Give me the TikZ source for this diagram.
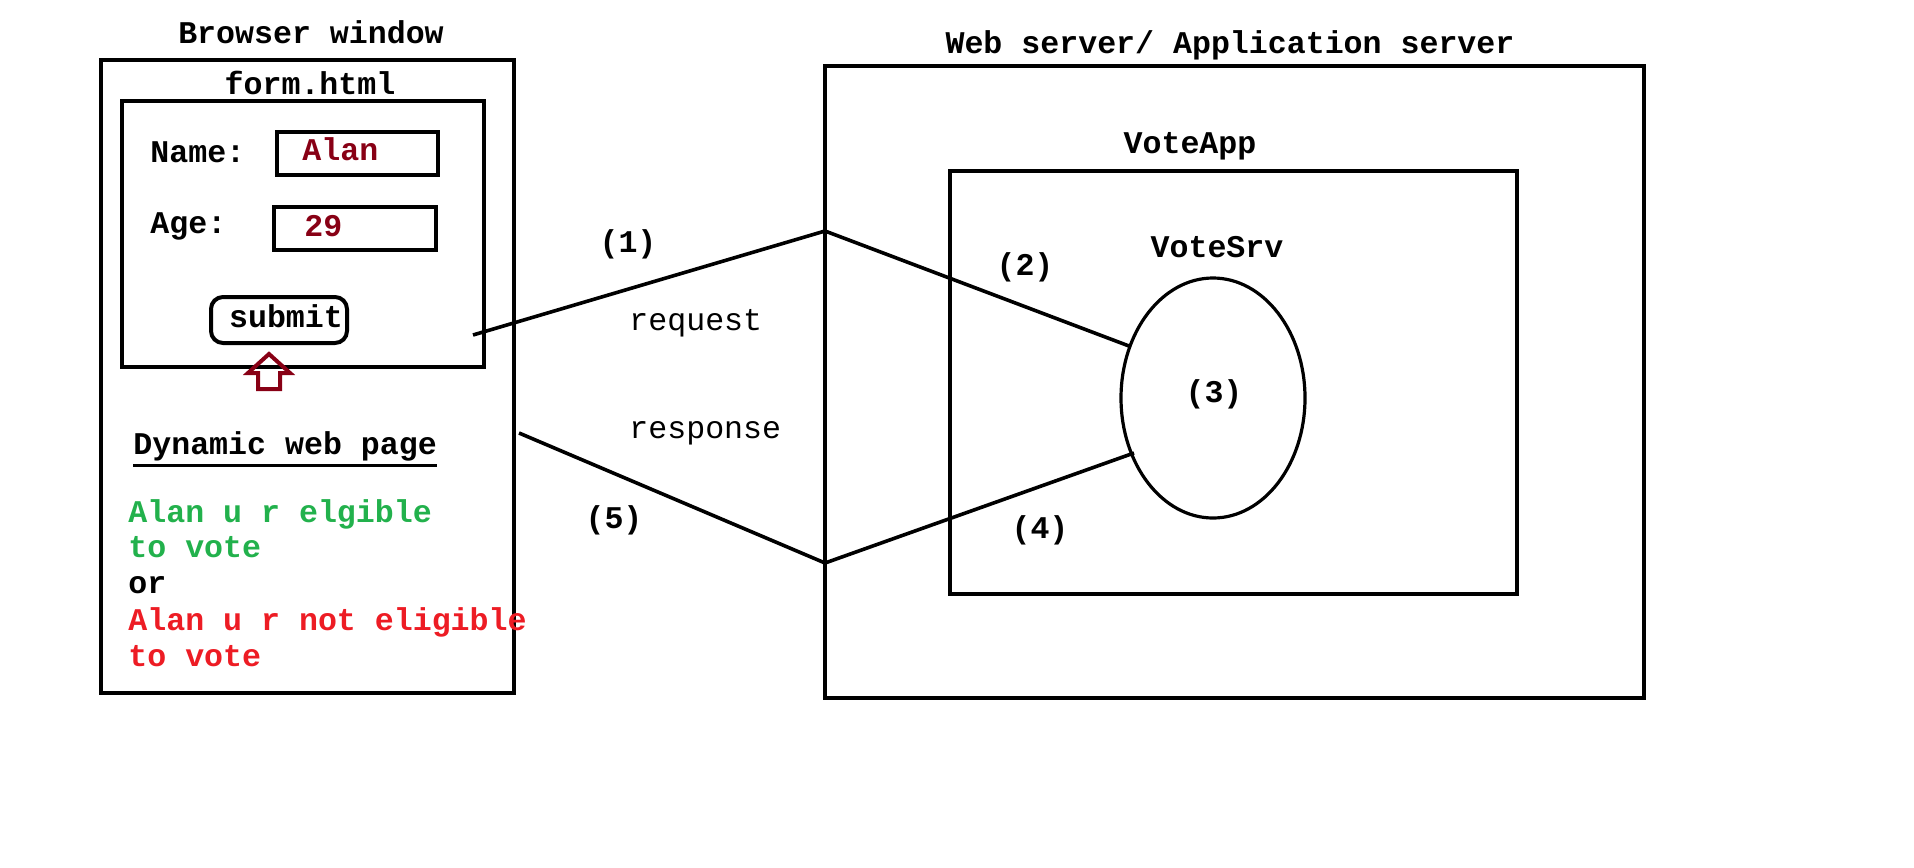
\documentclass[tikz,border=0pt]{standalone}
\usepackage{fontspec}
\setmainfont{Liberation Mono}
\usetikzlibrary{shapes.geometric}
\definecolor{maroon}{RGB}{136,0,21}
\definecolor{pgreen}{RGB}{34,177,76}
\definecolor{pred}{RGB}{237,28,36}
\tikzset{
  box/.style={draw, line width=2pt, inner sep=0pt},
  lbl/.style={font=\fontsize{15.8}{19}\selectfont\bfseries, inner sep=0pt},
  plainlbl/.style={font=\fontsize{15.8}{19}\selectfont, inner sep=0pt},
  conn/.style={line width=1.8pt, line join=miter},
}
\begin{document}
\begin{tikzpicture}[x=0.5pt,y=-0.5pt]
\useasboundingbox (0,0) rectangle (1914,867);
% Browser side
\node[box, minimum width=206.5pt, minimum height=316.5pt] (browser) at (307.5,376.5) {};
\node[lbl, anchor=base] (browsert) at (311,43) {Browser window};
\node[box, minimum width=181pt, minimum height=133pt] (form) at (303,234) {};
\node[lbl, anchor=base] (formt) at (310,94) {form.html};
\node[lbl, anchor=base west] (namel) at (150,162) {Name:};
\node[box, minimum width=80.5pt, minimum height=21.5pt] (namef) at (357.5,153.5) {};
\node[lbl, anchor=base west, text=maroon] (namev) at (302,160) {Alan};
\node[lbl, anchor=base west] (agel) at (150,233) {Age:};
\node[box, minimum width=81pt, minimum height=21.5pt] (agef) at (355,228.5) {};
\node[lbl, anchor=base west, text=maroon] (agev) at (304,236) {29};
\node[box, rounded corners=6pt, minimum width=68pt, minimum height=23pt] (submitb) at (279,320) {};
\node[lbl, anchor=base] (submitt) at (286,327) {submit};
\draw[maroon, line width=2pt, line join=miter]
  (269,354) -- (248,373) -- (258,373) -- (258,389) -- (280,389) -- (280,373) -- (290,373) -- cycle;
\node[lbl, anchor=base west] (dyn) at (133,454) {Dynamic web page};
\draw[line width=1.5pt] ([yshift=-2pt]dyn.south west) -- ([yshift=-2pt]dyn.south east);
\node[lbl, anchor=base west, text=pgreen] (ok1) at (128,522) {Alan u r elgible};
\node[lbl, anchor=base west, text=pgreen] (ok2) at (128,557) {to vote};
\node[lbl, anchor=base west] (ortxt) at (128,593) {or};
\node[lbl, anchor=base west, text=pred] (no1) at (128,630) {Alan u r not eligible};
\node[lbl, anchor=base west, text=pred] (no2) at (128,666) {to vote};
% Server side
\node[box, minimum width=409.5pt, minimum height=316pt] (server) at (1234.5,382) {};
\node[lbl, anchor=base] (servert) at (1230,53) {Web server/ Application server};
\node[box, minimum width=283.5pt, minimum height=211.5pt] (voteapp) at (1233.5,382.5) {};
\node[lbl, anchor=base] (voteappt) at (1190,153) {VoteApp};
\node[lbl, anchor=base] (votesrvt) at (1217,257) {VoteSrv};
\node[draw, ellipse, line width=1.6pt, inner sep=0pt, minimum width=92pt, minimum height=120pt] (srv) at (1213,398) {};
\node[lbl] (n3) at (1214,394) {(3)};
% connectors
\coordinate (reqs) at (473,335);
\coordinate (jtop) at (825,231);
\coordinate (srvin) at (1129,346);
\coordinate (srvout) at (1134,453);
\coordinate (jbot) at (825,563);
\coordinate (rese) at (519,433);
\draw[conn] (reqs) -- (jtop) -- (srvin);
\draw[conn] (srvout) -- (jbot) -- (rese);
\node[lbl] (n1) at (628,244) {(1)};
\node[lbl] (n2) at (1025,267) {(2)};
\node[lbl] (n4) at (1040,530) {(4)};
\node[lbl] (n5) at (614,520) {(5)};
\node[plainlbl, anchor=base west] (reqt) at (629,330) {request};
\node[plainlbl, anchor=base west] (rest) at (629,438) {response};
\end{tikzpicture}
\end{document}
